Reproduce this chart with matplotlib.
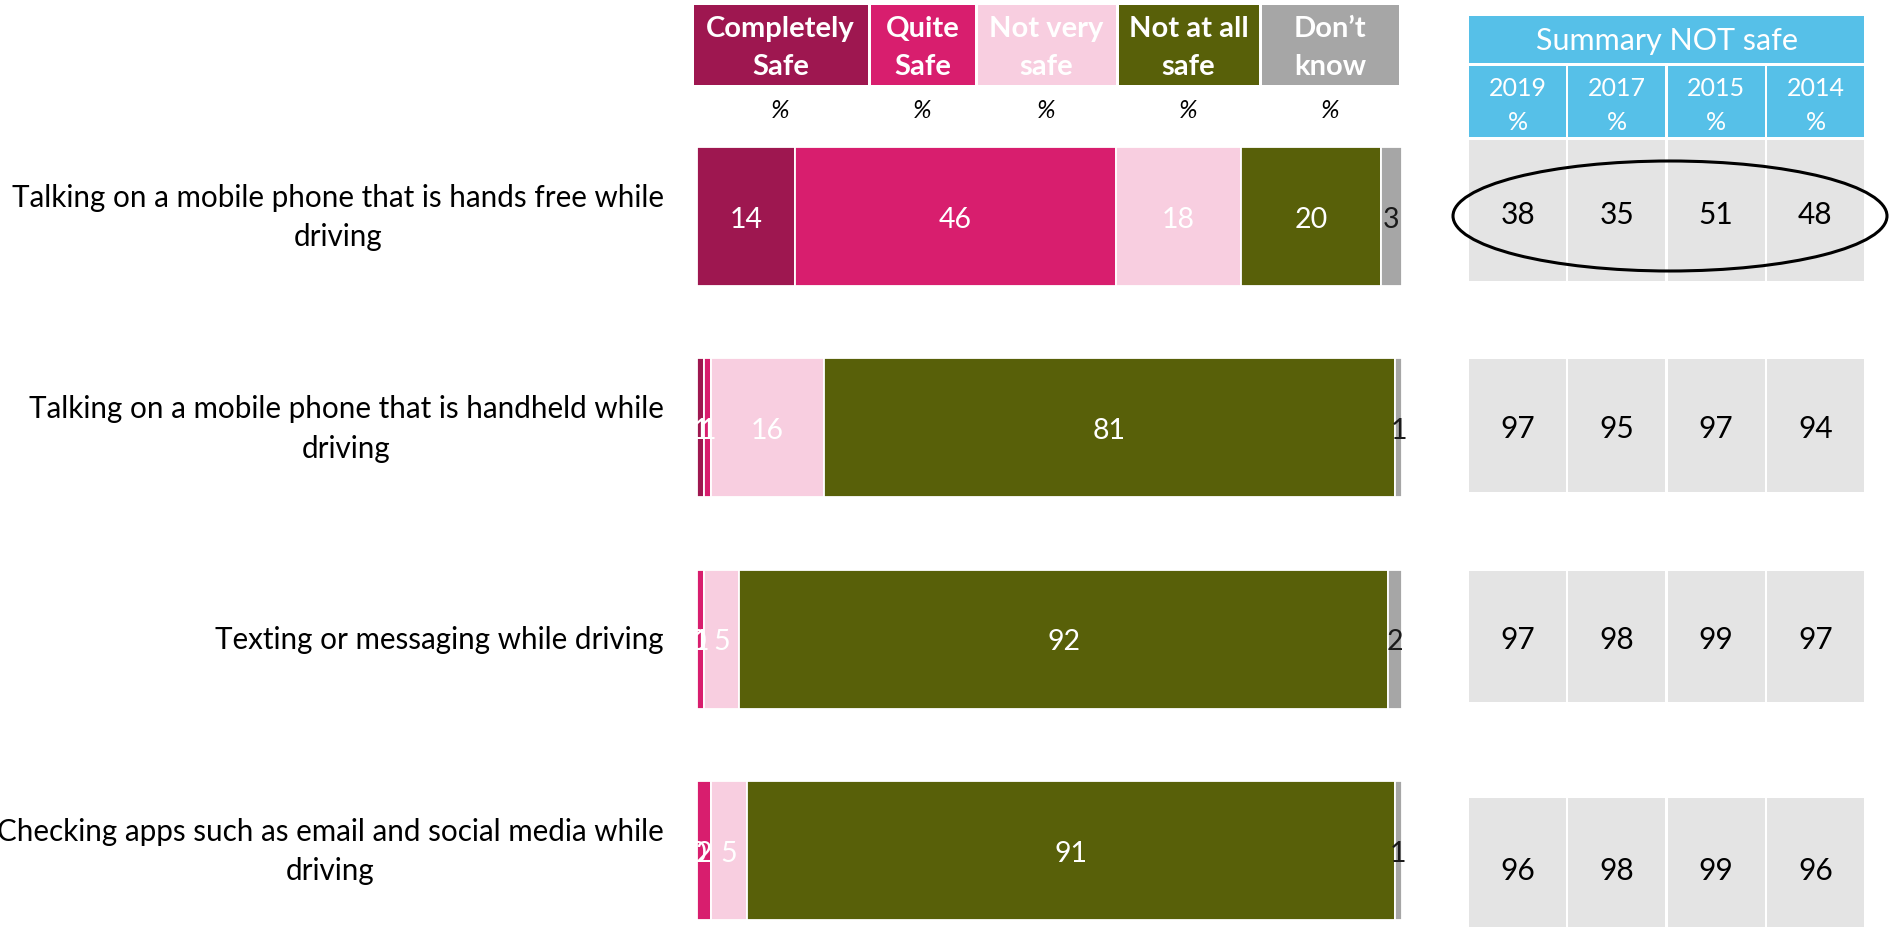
import matplotlib
matplotlib.use('Agg')
import matplotlib.pyplot as plt
from matplotlib.patches import Rectangle, Ellipse
import numpy as np

plt.rcParams['font.family'] = ['Lato', 'DejaVu Sans']

# survey responses, % per behaviour
behaviours = ['Talking on a mobile phone that is hands free while\ndriving',
              'Talking on a mobile phone that is handheld while\ndriving',
              'Texting or messaging while driving',
              'Checking apps such as email and social media while\ndriving']
responses = ['Completely\nSafe', 'Quite\nSafe', 'Not very\nsafe', 'Not at all\nsafe', 'Don\u2019t\nknow']
completely_safe = [14, 1, 0, 0]
quite_safe = [46, 1, 1, 2]
not_very_safe = [18, 16, 5, 5]
not_at_all_safe = [20, 81, 92, 91]
dont_know = [3, 1, 2, 1]

# summary "not safe" by survey year
years = ['2019', '2017', '2015', '2014']
not_safe_2019 = [38, 97, 97, 96]
not_safe_2017 = [35, 95, 98, 98]
not_safe_2015 = [51, 97, 99, 99]
not_safe_2014 = [48, 94, 97, 96]

colors = ['#9E1750', '#D81E6E', '#F8CEE0', '#586009', '#A6A6A6']
label_colors = ['white', 'white', 'white', 'white', '#1a1a1a']
CYAN, GREY = '#56C0E8', '#E4E4E4'

W, H = 1893, 928
fig = plt.figure(figsize=(W / 100, H / 100), dpi=100)

# overlay in pixel coords for headers and the summary table
ov = fig.add_axes([0, 0, 1, 1])
ov.set_xlim(0, W); ov.set_ylim(H, 0); ov.axis('off')

# stacked 100% bars
ax = fig.add_axes([697 / W, 0, 705 / W, 1])
ax.patch.set_alpha(0)
row_px, first_px = 211.3, 217.5
ax.set_ylim((H - first_px) / row_px, -first_px / row_px)
ax.set_xlim(0, 100)

series = np.array([completely_safe, quite_safe, not_very_safe, not_at_all_safe, dont_know], dtype=float)
totals = series.sum(axis=0)
shares = series / totals * 100
ypos = np.arange(len(behaviours))
left = np.zeros(len(behaviours))
for k in range(len(responses)):
    ax.barh(ypos, shares[k], left=left, height=0.658, color=colors[k],
            edgecolor='white', linewidth=1.3)
    for i in ypos:
        ax.text(left[i] + shares[k][i] / 2, i + 0.01, f'{int(series[k][i])}', ha='center', va='center',
                fontsize=20.5, color=label_colors[k])
    left += shares[k]

ax.set_yticks(ypos)
ax.set_yticklabels(behaviours, fontsize=21.3, multialignment='center', linespacing=1.5, va='center')
ax.tick_params(axis='y', length=0, pad=24)
ax.set_xticks([])
for s in ax.spines.values():
    s.set_visible(False)

# response headers
edges = [692, 869, 976, 1117, 1260, 1400]
for k, lab in enumerate(responses):
    x0, x1 = edges[k] + 1.5, edges[k + 1] - 1.5
    ov.add_patch(Rectangle((x0, 6), x1 - x0, 80, color=colors[k], lw=0))
    ov.text((x0 + x1) / 2, 48, lab, ha='center', va='center', color='white',
            fontsize=21, fontweight='bold', linespacing=1.55)
    ov.text((x0 + x1) / 2, 110, '%', ha='center', va='center', fontsize=18, style='italic')

# summary table
tab_x0, col_w, gap = 1469, 99.3, 2.2
tab_w = col_w * len(years) - gap
ov.add_patch(Rectangle((tab_x0, 17), tab_w, 47, color=CYAN, lw=0))
ov.text(tab_x0 + tab_w / 2, 41, 'Summary NOT safe', ha='center', va='center', color='white', fontsize=22)
row_tops = [141, 360, 572, 799]
row_bots = [282, 493, 703, 937]
summary = [not_safe_2019, not_safe_2017, not_safe_2015, not_safe_2014]
for j, yr in enumerate(years):
    cx0 = tab_x0 + j * col_w
    cxm = cx0 + (col_w - gap) / 2
    ov.add_patch(Rectangle((cx0, 67), col_w - gap, 71, color=CYAN, lw=0))
    ov.text(cxm, 89, yr, ha='center', va='center', color='white', fontsize=18)
    ov.text(cxm, 123, '%', ha='center', va='center', color='white', fontsize=18)
    for i in range(len(behaviours)):
        ov.add_patch(Rectangle((cx0, row_tops[i]), col_w - gap, row_bots[i] - row_tops[i], color=GREY, lw=0))
        ov.text(cxm, (row_tops[i] + row_bots[i]) / 2 + 3, str(summary[j][i]), ha='center', va='center',
                fontsize=21.5, color='black', zorder=4)

ov.add_patch(Ellipse((1670, 217), 434, 110, fill=False, ec='black', lw=2.2, zorder=3))

fig.savefig('out.png', dpi=100)
